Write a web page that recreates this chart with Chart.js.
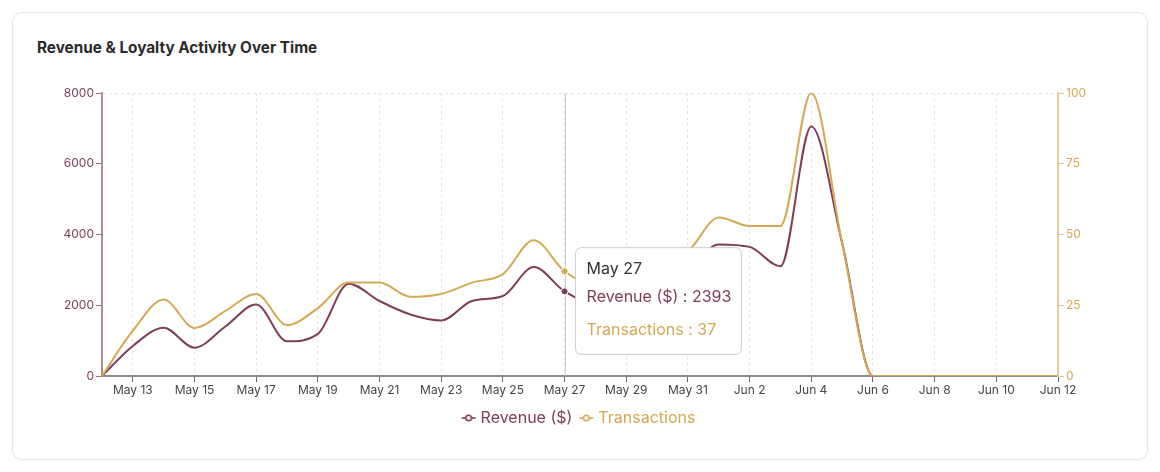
<!DOCTYPE html>
<html>
<head>
<meta charset="utf-8">
<script src="https://cdn.jsdelivr.net/npm/chart.js@4"></script>
<style>
  html, body { margin: 0; padding: 0; background: #ffffff; width: 1160px; height: 472px; overflow: hidden; font-family: Inter, sans-serif; }
  .card { position: absolute; left: 12px; top: 12px; width: 1134px; height: 446px; border: 1px solid #e6e6e6; border-radius: 10px; box-shadow: 0 1px 3px rgba(0,0,0,0.05); background: #fff; }
  .title { position: absolute; left: 37px; top: 40px; font-size: 15.3px; line-height: 16px; font-weight: 700; color: #2b2b2b; white-space: nowrap; }
  #wrap { position: absolute; left: 0; top: 0; width: 1160px; height: 472px; }
</style>
</head>
<body>
<div class="card"></div>
<div class="title">Revenue &amp; Loyalty Activity Over Time</div>
<div id="wrap"><canvas id="c" width="1160" height="472"></canvas></div>
<script>
const dates = ["May 12","May 13","May 14","May 15","May 16","May 17","May 18","May 19","May 20","May 21","May 22","May 23","May 24","May 25","May 26","May 27","May 28","May 29","May 30","May 31","Jun 1","Jun 2","Jun 3","Jun 4","Jun 5","Jun 6","Jun 7","Jun 8","Jun 9","Jun 10","Jun 11","Jun 12"];
const revenue = [0,850,1365,800,1400,2020,980,1190,2610,2120,1740,1570,2120,2260,3080,2393,2050,2300,2700,3000,3720,3650,3100,7050,3760,0,0,0,0,0,0,0];
const transactions = [0,16,27,17,23,29,18,24,33,33,28,29,33,36,48,37,32,34,39,44,56,53,53,100,47,0,0,0,0,0,0,0];
const revenueTicks = [0,2000,4000,6000,8000];
const transactionTicks = [0,25,50,75,100];
const activeIndex = dates.indexOf("May 27");

const PURPLE = '#7e3d5b';
const GOLD = '#d4a954';

Chart.defaults.font.family = 'Inter, sans-serif';

function legendIcon(color) {
  const c = document.createElement('canvas');
  c.width = 16; c.height = 10;
  const x = c.getContext('2d');
  x.strokeStyle = color; x.lineWidth = 1.6;
  x.beginPath(); x.moveTo(1, 5); x.lineTo(15, 5); x.stroke();
  x.beginPath(); x.arc(8, 5, 2.8, 0, Math.PI * 2);
  x.fillStyle = '#fff'; x.fill(); x.stroke();
  return c;
}
const icons = [legendIcon(PURPLE), legendIcon(GOLD)];

const cursorLine = {
  id: 'cursorLine',
  beforeDatasetsDraw(chart) {
    const act = chart.tooltip.getActiveElements();
    if (!act.length) return;
    const x = act[0].element.x;
    const {top, bottom} = chart.chartArea;
    const ctx = chart.ctx;
    ctx.save();
    ctx.strokeStyle = '#cccccc'; ctx.lineWidth = 1;
    ctx.beginPath(); ctx.moveTo(Math.round(x) + 0.5, top); ctx.lineTo(Math.round(x) + 0.5, bottom); ctx.stroke();
    ctx.restore();
  }
};

Chart.Tooltip.positioners.cursorSide = function(elements) {
  if (!elements.length) return false;
  return { x: elements[0].element.x, y: this.chart.chartArea.top + 208 };
};

const chart = new Chart(document.getElementById('c'), {
  type: 'line',
  data: {
    labels: dates,
    datasets: [
      { label: 'Revenue ($)', data: revenue, yAxisID: 'y', borderColor: PURPLE, backgroundColor: PURPLE,
        borderWidth: 2, pointRadius: 0, pointStyle: 'circle', pointHoverRadius: 3.5, pointHoverBorderWidth: 1, pointHoverBorderColor: '#fff', pointHoverBackgroundColor: PURPLE,
        cubicInterpolationMode: 'monotone', order: 1 },
      { label: 'Transactions', data: transactions, yAxisID: 'y1', borderColor: GOLD, backgroundColor: GOLD,
        borderWidth: 2, pointRadius: 0, pointStyle: 'circle', pointHoverRadius: 3.5, pointHoverBorderWidth: 1, pointHoverBorderColor: '#fff', pointHoverBackgroundColor: GOLD,
        cubicInterpolationMode: 'monotone', order: 0 }
    ]
  },
  options: {
    responsive: false,
    animation: false,
    events: [],
    layout: { padding: { left: 42, right: 42, top: 93, bottom: 36 } },
    scales: {
      x: {
        type: 'category', offset: false,
        afterBuildTicks: s => { s.ticks = s.ticks.filter(t => t.value % 2 === 1); },
        afterFit: s => { s.height = 24; },
        ticks: { autoSkip: false, maxRotation: 0, color: '#444', font: { size: 12 }, padding: 1 },
        grid: { color: '#e4e4e4', tickColor: '#666', tickLength: 6, lineWidth: 1 },
        border: { color: '#8a8a8a', width: 2, dash: [3, 3] }
      },
      y: {
        position: 'left', min: 0, max: 8000,
        afterBuildTicks: s => { s.ticks = revenueTicks.map(v => ({ value: v })); },
        afterFit: s => { s.width = 60; },
        ticks: { color: PURPLE, font: { size: 12 }, padding: 2, callback: v => String(v) },
        grid: { color: c => (c.tick && c.tick.value === 8000) ? '#e4e4e4' : 'rgba(0,0,0,0)', tickColor: '#9a6a80', tickLength: 6 },
        border: { color: '#ad8b9b', width: 2, dash: [3, 3] }
      },
      y1: {
        position: 'right', min: 0, max: 100,
        afterBuildTicks: s => { s.ticks = transactionTicks.map(v => ({ value: v })); },
        afterFit: s => { s.width = 60; },
        ticks: { color: GOLD, font: { size: 12 }, padding: 2, callback: v => String(v) },
        grid: { drawOnChartArea: false, tickColor: '#e0c78f', tickLength: 6 },
        border: { color: '#e1cc9c', width: 2 }
      }
    },
    plugins: {
      legend: {
        position: 'bottom',
        labels: {
          usePointStyle: true, boxWidth: 8, padding: 10,
          font: { size: 16 },
          generateLabels: (ch) => ch.data.datasets.map((ds, i) => ({
            text: ds.label, fontColor: ds.borderColor, pointStyle: icons[i],
            fillStyle: ds.borderColor, strokeStyle: ds.borderColor, lineWidth: 0, hidden: false, datasetIndex: i
          }))
        }
      },
      tooltip: {
        enabled: true,
        position: 'cursorSide',
        xAlign: 'left', yAlign: 'center',
        caretSize: 0, caretPadding: 11,
        backgroundColor: '#ffffff',
        borderColor: '#cccccc', borderWidth: 1, cornerRadius: 6,
        displayColors: false,
        titleColor: '#333333', titleFont: { size: 16, weight: 'normal' }, titleMarginBottom: 9,
        bodyFont: { size: 16 }, bodySpacing: 13,
        padding: { top: 12, bottom: 15, left: 11, right: 10 },
        itemSort: (a, b) => a.datasetIndex - b.datasetIndex,
        callbacks: {
          label: (it) => `${it.dataset.label} : ${it.raw}`,
          labelTextColor: (it) => it.dataset.borderColor
        }
      }
    }
  },
  plugins: [cursorLine]
});

const act = [{ datasetIndex: 0, index: activeIndex }, { datasetIndex: 1, index: activeIndex }];
chart.setActiveElements(act);
const el = chart.getDatasetMeta(0).data[activeIndex];
chart.tooltip.setActiveElements(act, { x: el.x, y: el.y });
chart.update();
</script>
</body>
</html>
